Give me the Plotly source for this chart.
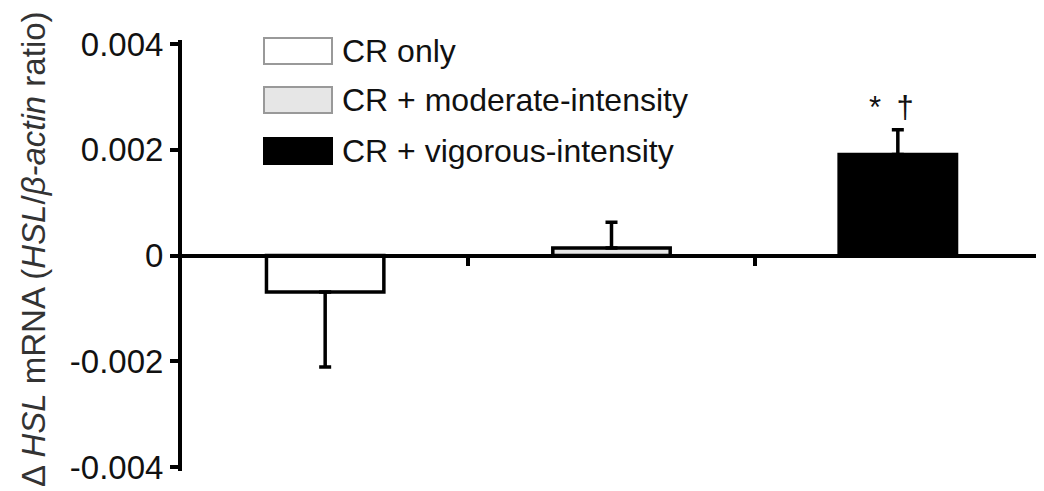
import plotly.graph_objects as go

# ---- data ----
groups = ["CR only", "CR + moderate-intensity", "CR + vigorous-intensity"]
means = [-0.00069, 0.00014, 0.00191]
err_up = [0.0, 0.00049, 0.00047]
err_down = [0.00142, 0.0, 0.0]
bar_fill = ["#ffffff", "#e6e6e6", "#000000"]
legend_line = ["#999999", "#999999", "#000000"]
y_ticks = [-0.004, -0.002, 0, 0.002, 0.004]
y_tick_labels = ["-0.004", "-0.002", "0", "0.002", "0.004"]
sig_label = "*\u2002\u2020"

# page body has an 8px default margin: compensate so the screenshot lines up
OFF = 8
W, H = 1044 - OFF, 491 - OFF
ML, MR, MT, MB = 182 - OFF, 3, 44 - OFF - 4, 20
PW, PH = W - ML - MR, H - MT - MB
FONT = "Liberation Sans, Arial, sans-serif"


def px_x(px):  # screen pixel -> paper
    return (px - OFF - ML) / PW


def px_y(py):
    return (H - MB - (py - OFF)) / PH


x_pos = list(range(len(groups)))

fig = go.Figure()
fig.add_trace(go.Bar(
    x=x_pos, y=means, width=0.41,
    marker=dict(color=bar_fill, line=dict(color="#000000", width=3.5)),
    error_y=dict(type="data", symmetric=False, array=err_up, arrayminus=err_down,
                 color="#000000", thickness=3.5, width=6),
    showlegend=False,
))

# significance marks above vigorous bar
fig.add_annotation(x=x_pos[2], y=means[2] + err_up[2] + 0.00005, text=sig_label,
                   showarrow=False, xanchor="center", yanchor="bottom", xshift=-6,
                   font=dict(size=31, color="#111111", family=FONT))

# custom legend (large swatches)
shapes = []
row_centers = [51, 100, 151]
for i, g in enumerate(groups):
    cy = row_centers[i]
    shapes.append(dict(type="rect", xref="paper", yref="paper",
                       x0=px_x(264), x1=px_x(332), y0=px_y(cy - 13), y1=px_y(cy + 13),
                       fillcolor=bar_fill[i], line=dict(color=legend_line[i], width=2)))
    fig.add_annotation(xref="paper", yref="paper", x=px_x(340), y=px_y(cy), text=g,
                       showarrow=False, xanchor="left", yanchor="middle",
                       font=dict(size=32, color="#111111", family=FONT))

# y axis title
fig.add_annotation(xref="paper", yref="paper", x=px_x(33), y=px_y(249),
                   text="\u0394 <i>HSL</i> mRNA (<i>HSL</i>/<i>\u03b2-actin</i> ratio)",
                   textangle=-90, showarrow=False, xanchor="center", yanchor="middle",
                   font=dict(size=33, color="#333333", family=FONT))

half = 0.004 * PH / 423.0
fig.update_layout(
    width=W, height=H,
    margin=dict(l=ML, r=MR, t=MT, b=MB, pad=0),
    paper_bgcolor="#ffffff", plot_bgcolor="#ffffff",
    shapes=shapes,
    font=dict(family=FONT, size=32, color="#111111"),
    xaxis=dict(range=[-0.5, 2.5], anchor="free", position=0.5,
               showline=True, linecolor="#000000", linewidth=4,
               tickvals=[0.5, 1.5, 2.5], ticks="outside", ticklen=8, tickwidth=4,
               tickcolor="#000000", showticklabels=False, showgrid=False, zeroline=False),
    yaxis=dict(range=[-half, half], tickvals=y_ticks, ticktext=y_tick_labels,
               showline=True, linecolor="#000000", linewidth=4,
               ticks="outside", ticklen=8, tickwidth=4, tickcolor="#000000",
               showgrid=False, zeroline=False,
               tickfont=dict(size=33, color="#111111", family=FONT)),
)

fig.write_html("out.html")
